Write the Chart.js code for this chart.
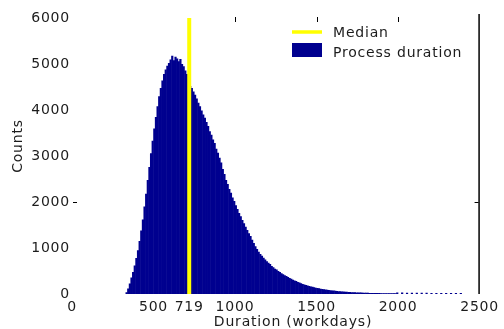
<!DOCTYPE html>
<html><head><meta charset="utf-8">
<script src="https://cdn.jsdelivr.net/npm/chart.js@4/dist/chart.umd.min.js"></script>
<style>html,body{margin:0;padding:0;background:#fff}#wrap{width:504px;height:329px;position:relative}canvas{display:block}</style>
</head><body><div id="wrap"><canvas id="c" width="504" height="329" style="width:504px;height:329px"></canvas></div>
<script>
// ---- data (10-workday bins) ----
const binCenters = [
  335,345,355,365,375,385,395,405,415,425,
  435,445,455,465,475,485,495,505,515,525,
  535,545,555,565,575,585,595,605,615,625,
  635,645,655,665,675,685,695,705,715,725,
  735,745,755,765,775,785,795,805,815,825,
  835,845,855,865,875,885,895,905,915,925,
  935,945,955,965,975,985,995,1005,1015,1025,
  1035,1045,1055,1065,1075,1085,1095,1105,1115,1125,
  1135,1145,1155,1165,1175,1185,1195,1205,1215,1225,
  1235,1245,1255,1265,1275,1285,1295,1305,1315,1325,
  1335,1345,1355,1365,1375,1385,1395,1405,1415,1425,
  1435,1445,1455,1465,1475,1485,1495,1505,1515,1525,
  1535,1545,1555,1565,1575,1585,1595,1605,1615,1625,
  1635,1645,1655,1665,1675,1685,1695,1705,1715,1725,
  1735,1745,1755,1765,1775,1785,1795,1805,1815,1825,
  1835,1845,1855,1865,1875,1885,1895,1905,1915,1925,
  1935,1945,1955,1965,1975,1985,1995,
  2005,2015,2025,2035,2045,2055,2065,2075,2085,2095,
  2105,2115,2125,2135,2145,2155,2165,2175,2185,2195,
  2205,2215,2225,2235,2245,2255,2265,2275,2285,2295,
  2305,2315,2325,2335,2345,2355,2365,2375,2385,2395];
const counts = [
  40,120,230,360,480,620,780,950,1150,1380,
  1620,1900,2180,2480,2760,3060,3330,3600,3850,4080,
  4300,4480,4640,4780,4880,4960,5020,5100,5180,5080,
  5160,5120,5060,5110,5000,4950,4860,4780,4700,4520,
  4480,4400,4330,4250,4160,4080,3990,3900,3830,3740,
  3650,3540,3460,3360,3280,3160,3070,2960,2860,2720,
  2610,2480,2390,2280,2200,2100,2020,1930,1850,1760,
  1690,1610,1540,1460,1390,1320,1260,1180,1110,1040,
  980,920,870,830,790,750,710,680,650,610,
  580,550,530,500,480,450,430,410,390,370,
  350,330,310,295,280,262,248,232,220,208,
  198,185,172,165,155,145,138,130,124,116,
  110,104,98,92,88,83,78,74,70,66,
  62,59,56,52,50,47,45,42,40,38,
  36,34,32,31,30,28,27,26,25,24,
  23,22,22,21,20,20,19,19,18,18,
  17,17,17,16,16,16,35,
  0,0,30,0,0,28,0,0,28,0,
  0,26,0,0,26,0,0,26,0,0,
  24,0,0,24,0,0,24,0,0,22,
  0,0,22,0,0,22,0,0,20,0];
const medianValue = 719;
const xTickValues = [0,500,719,1000,1500,2000,2500];
const yTickValues = [0,1000,2000,3000,4000,5000,6000];
const topTickValues = [1000,1500,2000];
const sideTickValues = [2000];
const seriesLabels = ['Median','Process duration'];
const axisTitles = {x:'Duration (workdays)', y:'Counts'};

const NAVY = '#00008F', YELLOW = '#FFFF00', INK = '#1c1c1c';
const FONT = '"DejaVu Sans", sans-serif';
const SPACING = '0.8px';

const deco = {
  id:'deco',
  beforeLayout(chart){ chart.ctx.letterSpacing = SPACING; },
  beforeDraw(chart){ chart.ctx.letterSpacing = SPACING; },
  afterDraw(chart){
    const {ctx, chartArea:a, scales:{x, y}} = chart;
    ctx.save();
    ctx.letterSpacing = SPACING;
    ctx.strokeStyle = '#000';
    ctx.lineWidth = 1.5;
    ctx.beginPath(); ctx.moveTo(a.right - 0.5, a.top - 4); ctx.lineTo(a.right - 0.5, a.bottom); ctx.stroke();
    ctx.lineWidth = 1;
    topTickValues.forEach(v => {
      const px = Math.round(x.getPixelForValue(v)) + 0.5;
      ctx.beginPath(); ctx.moveTo(px, a.top - 1); ctx.lineTo(px, a.top + 4); ctx.stroke();
    });
    sideTickValues.forEach(v => {
      const py = Math.round(y.getPixelForValue(v)) + 0.5;
      ctx.beginPath();
      ctx.moveTo(a.right - 1, py); ctx.lineTo(a.right - 5, py);
      ctx.moveTo(a.left + 1, py); ctx.lineTo(a.left + 5, py);
      ctx.stroke();
    });
    // legend
    const lx = 292, lw = 30;
    ctx.strokeStyle = YELLOW; ctx.lineWidth = 3.5;
    ctx.beginPath(); ctx.moveTo(lx, 32); ctx.lineTo(lx + lw, 32); ctx.stroke();
    ctx.fillStyle = NAVY; ctx.fillRect(lx, 43, lw, 14);
    ctx.fillStyle = INK; ctx.font = '14px ' + FONT;
    ctx.textAlign = 'left'; ctx.textBaseline = 'alphabetic';
    ctx.fillText(seriesLabels[0], 333, 37);
    ctx.fillText(seriesLabels[1], 333, 57);
    // axis titles
    ctx.textAlign = 'center'; ctx.textBaseline = 'middle';
    ctx.fillText(axisTitles.x, 293, 322);
    ctx.translate(18, 146); ctx.rotate(-Math.PI / 2);
    ctx.fillText(axisTitles.y, 0, 0);
    ctx.restore();
  }
};

const tickFont = {family: FONT, size: 14};
new Chart(document.getElementById('c'), {
  type: 'bar',
  data: {
    datasets: [
      {type:'line', label: seriesLabels[0], data: [{x: medianValue, y: 0}, {x: medianValue, y: 6000}],
       borderColor: YELLOW, borderWidth: 4, pointRadius: 0, order: 0},
      {type:'bar', label: seriesLabels[1], data: binCenters.map((v, i) => ({x: v, y: counts[i]})),
       backgroundColor: NAVY, borderWidth: 0, barPercentage: 1.35, categoryPercentage: 1, order: 1}
    ]
  },
  options: {
    responsive: false, animation: false, devicePixelRatio: 1,
    layout: {padding: {left: 4, top: 18, right: 20, bottom: 0}},
    plugins: {legend: {display: false}, tooltip: {enabled: false}},
    scales: {
      x: {type: 'linear', min: 0, max: 2500, offset: false,
          afterBuildTicks: s => { s.ticks = xTickValues.map(v => ({value: v})); },
          afterFit: s => { s.height = 35; },
          grid: {display: false, drawTicks: false}, border: {display: false},
          ticks: {autoSkip: false, maxRotation: 0, padding: 5, color: INK, font: tickFont, callback: v => String(v)}},
      y: {type: 'linear', min: 0, max: 6000,
          afterBuildTicks: s => { s.ticks = yTickValues.map(v => ({value: v})); },
          afterFit: s => { s.width = 68; },
          grid: {display: false, drawTicks: false}, border: {display: false},
          ticks: {padding: 2, color: INK, font: tickFont, callback: v => String(v)}}
    }
  },
  plugins: [deco]
});
</script>
</body></html>
